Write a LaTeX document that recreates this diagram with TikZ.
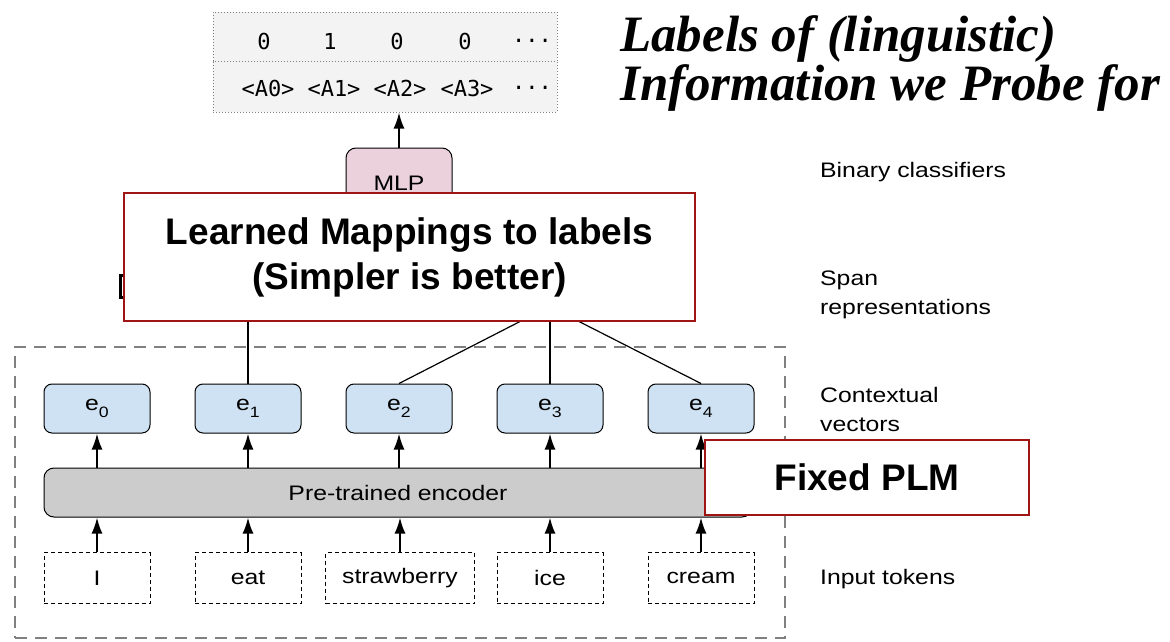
\documentclass[tikz,border=0pt]{standalone}
\usepackage{fontspec}
\setmainfont{Liberation Sans}
\newfontfamily\diagfont[FakeStretch=1.18]{Liberation Sans}
\newfontfamily\monofnt{DejaVu Sans Mono}
\newfontfamily\titlefnt{Liberation Serif}
\usetikzlibrary{arrows.meta}
\definecolor{boxred}{RGB}{160,20,20}
\definecolor{evec}{RGB}{207,226,243}
\definecolor{mlpc}{RGB}{234,209,220}
\definecolor{encc}{RGB}{204,204,204}
\definecolor{labc}{RGB}{243,243,243}
\definecolor{framec}{RGB}{128,128,128}
\newcommand{\sub}[1]{\raisebox{-7pt}{\fontsize{15}{15}\selectfont #1}}
\begin{document}
\begin{tikzpicture}[x=1pt,y=-1pt,
  dtext/.style={font=\diagfont\fontsize{21}{29}\selectfont},
  evecbox/.style={draw, fill=evec, rounded corners=8pt, minimum width=106pt, minimum height=49pt, line width=1pt, inner sep=0pt, dtext},
  tokbox/.style={draw, dash pattern=on 4pt off 3pt, minimum height=51pt, inner sep=0pt, line width=0.9pt, dtext},
  callout/.style={draw=boxred, line width=2pt, fill=white, font=\bfseries\fontsize{37}{45}\selectfont, inner sep=0pt, align=center},
  uparrow/.style={-{Latex[length=16pt,width=11pt]}, line width=2pt},
  rlabel/.style={anchor=west, align=left, dtext, inner sep=0pt},
  labbox/.style={draw=gray, dash pattern=on 1pt off 2pt, line width=1pt, fill=labc, minimum width=344pt, minimum height=50pt, inner sep=0pt},
  monotext/.style={font=\monofnt\fontsize{22}{22}\selectfont, inner sep=0pt},
  spanline/.style={line width=1.2pt},
  titletext/.style={font=\titlefnt\bfseries\itshape\fontsize{51}{51}\selectfont, anchor=base west, inner sep=0pt}
]
\useasboundingbox (0,0) rectangle (1170,642);

% frame of the fixed PLM
\node[draw=framec, dash pattern=on 12pt off 8pt, line width=2.2pt, minimum width=770pt, minimum height=291pt, inner sep=0pt] (plmframe) at (400,492.5) {};

% label boxes
\node[labbox] (labtop) at (385,37.5) {};
\node[labbox] (labbot) at (385,87) {};
\node[monotext] (l0) at (264,41) {0};
\node[monotext] (l1) at (330,41) {1};
\node[monotext] (l2) at (397,41) {0};
\node[monotext] (l3) at (465,41) {0};
\node[monotext] (l4) at (532,41) {...};
\node[monotext] (a0) at (268,88) {<A0>};
\node[monotext] (a1) at (334,88) {<A1>};
\node[monotext] (a2) at (400,88) {<A2>};
\node[monotext] (a3) at (467,88) {<A3>};
\node[monotext] (a4) at (532,88) {...};

% MLP
\node[draw, fill=mlpc, rounded corners=10pt, minimum width=106pt, minimum height=70pt, line width=1pt, inner sep=0pt, dtext] (mlp) at (399,183) {MLP};
\draw[uparrow] (mlp.north) -- (mlp.north |- labbot.south);

% span representation box (mostly hidden)
\node[draw, line width=2.5pt, minimum width=60pt, minimum height=22pt, anchor=north west, inner sep=0pt] (span0) at (119,274) {};

% contextual vectors
\node[evecbox] (e0) at (97,408.5) {e\sub{0}};
\node[evecbox] (e1) at (248,408.5) {e\sub{1}};
\node[evecbox] (e2) at (399,408.5) {e\sub{2}};
\node[evecbox] (e3) at (550,408.5) {e\sub{3}};
\node[evecbox] (e4) at (701,408.5) {e\sub{4}};

% span connections
\coordinate (s1) at (248,321);
\coordinate (s2) at (521,321);
\coordinate (s3) at (550,321);
\coordinate (s4) at (578,321);
\draw[spanline] (s1) -- (e1.north);
\draw[spanline] (s2) -- (e2.north);
\draw[spanline] (s3) -- (e3.north);
\draw[spanline] (s4) -- (e4.north);

% learned mappings callout
\node[callout, minimum width=571pt, minimum height=128pt] (learned) at (409.5,257) {Learned Mappings to labels\\(Simpler is better)};

% encoder
\node[draw, fill=encc, rounded corners=10pt, minimum width=708pt, minimum height=49pt, line width=1pt, inner sep=0pt, dtext] (enc) at (398,492.5) {Pre-trained encoder};

% tokens
\node[tokbox, minimum width=106pt] (t0) at (97,578) {I};
\node[tokbox, minimum width=106pt] (t1) at (248,578) {eat};
\node[tokbox, minimum width=149pt] (t2) at (400,578) {strawberry};
\node[tokbox, minimum width=106pt] (t3) at (550,578) {ice};
\node[tokbox, minimum width=106pt] (t4) at (701,578) {cream};

\foreach \i in {0,...,4}{
  \draw[uparrow] (t\i.north) -- (t\i.north |- enc.south);
  \draw[uparrow] (e\i.south |- enc.north) -- (e\i.south);
}

% fixed PLM callout
\node[callout, minimum width=324pt, minimum height=75pt] (fixed) at (867,477.5) {Fixed PLM};

% right labels
\node[rlabel] (lbin) at (820,172) {Binary classifiers};
\node[rlabel] (lspan) at (820,295) {Span\\representations};
\node[rlabel] (lctx) at (820,409) {Contextual\\vectors};
\node[rlabel] (ltok) at (820,579) {Input tokens};

% title
\node[titletext] (title1) at (620,52) {Labels of (linguistic)};
\node[titletext] (title2) at (620,100) {Information we Probe for};
\end{tikzpicture}
\end{document}
